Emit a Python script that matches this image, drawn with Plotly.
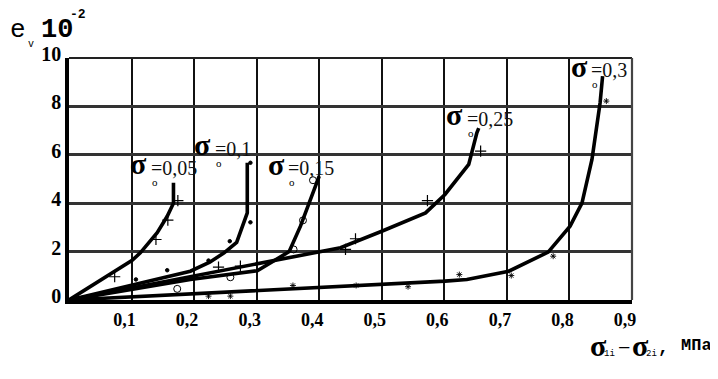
import plotly.graph_objects as go

# ---- data ----
x_005 = [0, 0.101, 0.114, 0.141, 0.157, 0.167, 0.167]
y_005 = [0, 1.64, 1.95, 2.78, 3.46, 4.0, 4.85]
mx_005 = [0.073, 0.139, 0.158, 0.174]
my_005 = [0.96, 2.50, 3.30, 4.11]

x_01 = [0, 0.194, 0.225, 0.248, 0.268, 0.285, 0.285]
y_01 = [0, 1.19, 1.56, 1.95, 2.38, 3.6, 5.67]
mx_01 = [0.107, 0.157, 0.223, 0.257, 0.290, 0.290]
my_01 = [0.85, 1.23, 1.63, 2.43, 3.21, 5.67]

x_015 = [0, 0.194, 0.301, 0.352, 0.370, 0.386, 0.400]
y_015 = [0, 0.85, 1.21, 2.0, 3.05, 4.15, 5.12]
mx_015 = [0.173, 0.258, 0.359, 0.374, 0.390]
my_015 = [0.46, 0.94, 2.09, 3.29, 4.95]

x_025 = [0, 0.434, 0.500, 0.570, 0.601, 0.639, 0.652, 0.655]
y_025 = [0, 2.16, 2.84, 3.60, 4.36, 5.60, 6.91, 7.1]
mx_025 = [0.239, 0.274, 0.442, 0.458, 0.573, 0.658]
my_025 = [1.36, 1.40, 2.09, 2.53, 4.11, 6.15]

x_03 = [0, 0.434, 0.601, 0.636, 0.703, 0.766, 0.801, 0.820, 0.836, 0.849, 0.853]
y_03 = [0, 0.55, 0.78, 0.85, 1.19, 1.98, 3.05, 4.0, 5.81, 8.15, 9.25]
mx_03 = [0.223, 0.258, 0.358, 0.459, 0.542, 0.624, 0.707, 0.774, 0.859]
my_03 = [0.16, 0.16, 0.60, 0.60, 0.55, 1.05, 1.01, 1.81, 8.22]

x_ticks = [0.1, 0.2, 0.3, 0.4, 0.5, 0.6, 0.7, 0.8, 0.9]
x_tick_text = ["0,1", "0,2", "0,3", "0,4", "0,5", "0,6", "0,7", "0,8", "0,9"]
y_ticks = [0, 2, 4, 6, 8, 10]
y_tick_text = ["0", "2", "4", "6", "8", "10"]

curve_labels = ["=0,05", "=0,1", "=0,15", "=0,25", "=0,3"]
# label anchor (sigma centre) in data units
label_x = [0.1115, 0.214, 0.331, 0.617, 0.816]
label_y = [5.46, 6.24, 5.45, 7.48, 9.50]

# ---- figure ----
# the page body has an 8px margin, so the figure is drawn 8px smaller and
# all screen positions below are given in window pixels
OFF = 8
W, H = 718 - OFF, 379 - OFF
SL, SR, ST, SB = 68.5, 632, 58, 300.5          # plot area in window pixels
L, T = SL - OFF, ST - OFF
R, B = W - (SR - OFF), H - (SB - OFF)
fig = go.Figure()

series = [
    (x_005, y_005, mx_005, my_005, "cross-thin-open", 8, 1.2),
    (x_01, y_01, mx_01, my_01, "circle", 3.5, 1),
    (x_015, y_015, mx_015, my_015, "circle-open", 7, 1),
    (x_025, y_025, mx_025, my_025, "cross-thin-open", 8, 1.2),
    (x_03, y_03, mx_03, my_03, "asterisk-open", 5, 0.9),
]
for lx, ly, px_, py_, sym, sz, lw in series:
    fig.add_trace(go.Scatter(x=lx, y=ly, mode="lines",
                             line=dict(color="black", width=3.6),
                             hoverinfo="skip", showlegend=False))
    fig.add_trace(go.Scatter(x=px_, y=py_, mode="markers",
                             marker=dict(symbol=sym, size=sz, color="black",
                                         line=dict(color="black", width=lw)),
                             hoverinfo="skip", showlegend=False))

serif = "Liberation Serif, Times New Roman, serif"
mono = "Liberation Mono, Courier New, monospace"

fig.update_layout(
    width=W, height=H,
    margin=dict(l=L, r=R, t=T, b=B, pad=0),
    paper_bgcolor="white", plot_bgcolor="white",
    showlegend=False,
    font=dict(family=serif, color="black"),
    xaxis=dict(range=[0, 0.9], tickvals=x_ticks, ticktext=x_tick_text,
               showgrid=True, gridcolor="#111", gridwidth=1.6,
               showline=True, linecolor="black", linewidth=4,
               ticks="", zeroline=False, ticklabelshift=-7,
               tickfont=dict(family=serif, size=18, color="black", weight="bold")),
    yaxis=dict(range=[0, 10], tickvals=y_ticks, ticktext=y_tick_text,
               showgrid=True, gridcolor="#333", gridwidth=2.6,
               showline=True, linecolor="black", linewidth=3.5,
               ticks="", zeroline=False, ticklabelshift=-4,
               tickfont=dict(family=serif, size=20, color="black", weight="bold")),
)

# top and right frame
fig.add_shape(type="line", xref="paper", yref="paper", x0=0, x1=1, y0=1, y1=1,
              line=dict(color="#222", width=2))
fig.add_shape(type="line", xref="paper", yref="paper", x0=1, x1=1, y0=0, y1=1,
              line=dict(color="#444", width=2.2))

# curve labels
for txt, lx, ly in zip(curve_labels, label_x, label_y):
    fig.add_annotation(x=lx, y=ly, xref="x", yref="y", text="<b>σ</b>",
                       showarrow=False, xanchor="center", yanchor="middle",
                       font=dict(family=serif, size=30, color="black"), yshift=4)
    fig.add_annotation(x=lx, y=ly, xref="x", yref="y", text=txt,
                       showarrow=False, xanchor="left", yanchor="middle",
                       xshift=10, yshift=0,
                       font=dict(family=serif, size=20, color="#111"))
    fig.add_annotation(x=lx, y=ly, xref="x", yref="y", text="o",
                       showarrow=False, xanchor="center", yanchor="middle",
                       xshift=16, yshift=-14, borderpad=0,
                       font=dict(family=serif, size=11, color="black"))

PW = SR - SL
PH = SB - ST


def px(xs):
    return (xs - SL) / PW


def py(ys):
    return (SB - ys) / PH


def ann(text, xs, ys, size, family, anchor="center", bold=False):
    t = "<b>%s</b>" % text if bold else text
    fig.add_annotation(x=px(xs), y=py(ys), xref="paper", yref="paper", text=t,
                       showarrow=False, xanchor=anchor, yanchor="middle",
                       borderpad=0,
                       font=dict(family=family, size=size, color="black"))


# y-axis title: e_v 10^-2
ann("e", 8.5, 30, 26, mono, anchor="left")
ann("v", 30.5, 44, 10, mono)
ann("10", 56, 30, 27, mono, bold=True)
ann("-2", 78, 14, 13, mono, bold=True)

# x-axis title: sigma_1i - sigma_2i , MPa
ann("σ", 598, 346, 30, serif, bold=True)
ann("1i", 609, 355, 9, mono)
ann("−", 624, 348, 22, serif)
ann("σ", 641, 346, 30, serif, bold=True)
ann("2i", 652, 355, 9, mono)
ann(",", 664, 349, 18, mono, bold=True)
ann("МПа", 713, 346, 17, mono, anchor="right", bold=True)

fig.write_html("out.html")
